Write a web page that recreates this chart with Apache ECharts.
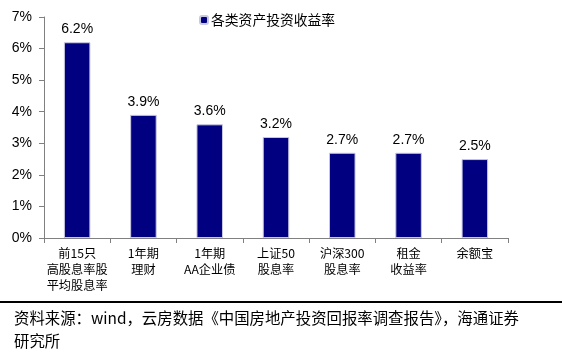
<!DOCTYPE html>
<html><head><meta charset="utf-8">
<script src="https://cdn.jsdelivr.net/npm/echarts@6/dist/echarts.min.js"></script>
<style>html,body{margin:0;padding:0;background:#fff}#c{width:562px;height:361px}</style>
</head><body><div id="c"></div>
<script>
var categories = ['前15只\n高股息率股\n平均股息率', '1年期\n理财', '1年期\nAA企业债', '上证50\n股息率', '沪深300\n股息率', '租金\n收益率', '余额宝'];
var values = [6.2, 3.9, 3.6, 3.2, 2.7, 2.7, 2.5];
var yTicks = [0, 1, 2, 3, 4, 5, 6, 7];
var seriesName = '各类资产投资收益率';
var sourceText = '资料来源：wind，云房数据《中国房地产投资回报率调查报告》，海通证券\n研究所';

var chart = echarts.init(document.getElementById('c'));
chart.setOption({
  animation: false,
  backgroundColor: '#fff',
  grid: {left: 44, right: 54, top: 17, bottom: 123, containLabel: false},
  legend: {
    data: [seriesName], left: 194, top: 8, itemWidth: 8, itemHeight: 8, itemGap: 3,
    textStyle: {fontFamily: 'Noto Sans CJK SC', fontSize: 13.8, color: '#000', padding: [0, 0, 0, -2]}
  },
  xAxis: {
    type: 'category', data: categories,
    axisLine: {lineStyle: {color: '#808080', width: 1}},
    axisTick: {show: true, length: 5, lineStyle: {color: '#808080'}},
    axisLabel: {fontFamily: 'Noto Sans CJK SC', fontSize: 12.2, color: '#000', lineHeight: 16, margin: 7, interval: 0}
  },
  yAxis: {
    type: 'value', min: yTicks[0], max: yTicks[yTicks.length - 1], interval: 1,
    axisLine: {show: true, lineStyle: {color: '#808080'}},
    axisTick: {show: true, length: 5, lineStyle: {color: '#808080'}},
    splitLine: {show: false},
    axisLabel: {formatter: '{value}%', fontFamily: 'Liberation Sans', fontSize: 14, color: '#000', margin: 12}
  },
  series: [{
    name: seriesName, type: 'bar', data: values, barWidth: '40%',
    itemStyle: {color: '#000080', borderColor: '#c8c8e0', borderWidth: 1},
    label: {show: true, position: 'top', distance: 6, formatter: function (p) { return p.value.toFixed(1) + '%'; },
      fontFamily: 'Liberation Sans', fontSize: 14, color: '#000'}
  }],
  graphic: [
    {type: 'rect', shape: {x: 0, y: 301, width: 562, height: 2}, style: {fill: '#000'}},
    {type: 'text', left: 14, top: 307, style: {text: sourceText, font: '15.4px "Noto Sans CJK SC"', fill: '#000', lineHeight: 23}}
  ]
});
</script></body></html>
